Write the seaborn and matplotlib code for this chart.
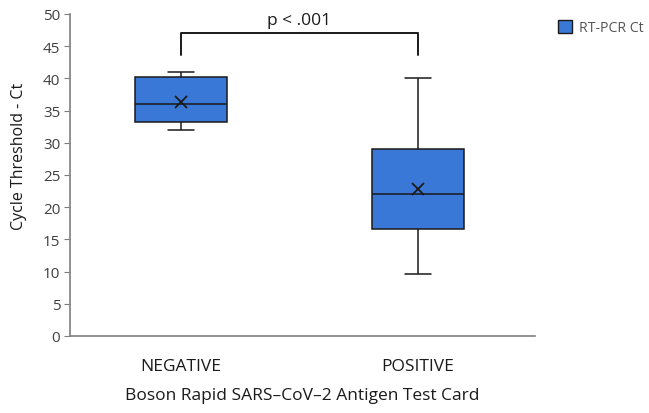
import pandas as pd
import seaborn as sns
import matplotlib.pyplot as plt
from matplotlib.patches import Patch

# Data (values chosen to reproduce min, Q1, median, Q3, max and mean)
groups = ['NEGATIVE', 'POSITIVE']
negative_ct = [32.0, 33.0, 33.2, 35.0, 35.95, 36.6, 40.25, 40.6, 41.0]
positive_ct = [9.7, 14.0, 16.6, 19.0, 22.0, 24.0, 29.0, 30.8, 40.1]
p_label = 'p < .001'
series_name = 'RT-PCR Ct'

df = pd.DataFrame({
    'group': [groups[0]] * len(negative_ct) + [groups[1]] * len(positive_ct),
    'ct': negative_ct + positive_ct,
})

sns.set_style('white')
plt.rcParams['font.family'] = ['Open Sans', 'DejaVu Sans']

box_color = '#3A78D8'
text_color = '#404040'
dark = '#1a1a1a'
axis_color = '#7f7f7f'

fig = plt.figure(figsize=(6.49, 4.14), dpi=100)
ax = fig.add_axes([0.108, 0.186, 0.716, 0.778])

sns.boxplot(data=df, x='group', y='ct', order=groups, ax=ax,
            whis=(0, 100), width=0.39, color=box_color, saturation=1,
            linecolor=dark, linewidth=1.1, showmeans=True,
            meanprops=dict(marker='x', markeredgecolor=dark, markersize=8, markeredgewidth=1.3),
            capwidths=0.11)

ax.set_ylim(0, 50)
ax.set_yticks(range(0, 51, 5))
ax.set_xlim(-0.468, 1.494)

# significance bracket
ax.plot([0, 0, 1, 1], [43.6, 47.05, 47.05, 43.6], color=dark, lw=1.4, clip_on=False)
ax.text(0.5, 49.0, p_label, ha='center', va='center', fontsize=12.5, color=dark)

for side in ['top', 'right']:
    ax.spines[side].set_visible(False)
for side in ['left', 'bottom']:
    ax.spines[side].set_color(axis_color)
    ax.spines[side].set_linewidth(1.2)

ax.tick_params(axis='y', left=True, length=4, color=axis_color, labelsize=11, labelcolor=text_color, pad=3)
ax.tick_params(axis='x', bottom=False, labelsize=12.5, labelcolor=dark, pad=12)

ax.set_ylabel('Cycle Threshold - Ct', fontsize=11.5, color=dark)
ax.yaxis.set_label_coords(-0.093, 0.562)
ax.set_xlabel('Boson Rapid SARS\u2013CoV\u20132 Antigen Test Card', fontsize=12.5, color=dark, labelpad=10)

handles = [Patch(facecolor=box_color, edgecolor=dark, linewidth=1, label=series_name)]
fig.legend(handles=handles, loc='upper left', bbox_to_anchor=(0.84, 0.98), frameon=False,
           fontsize=10.2, handlelength=1.0, handleheight=1.0, handletextpad=0.5, labelcolor='#555555')

fig.savefig('out.png', dpi=100)
